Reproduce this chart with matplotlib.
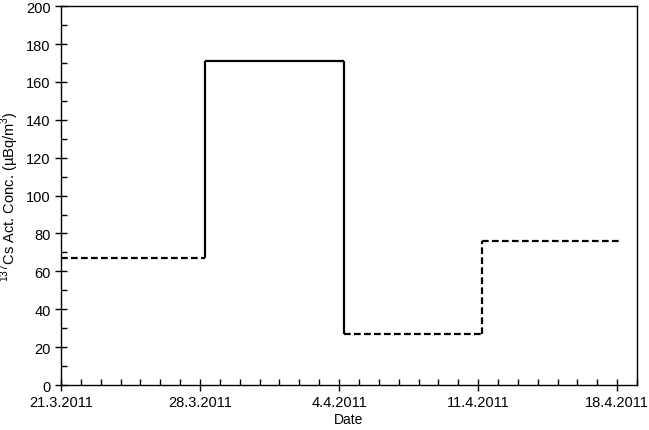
import datetime as dt
import matplotlib
matplotlib.use("Agg")
import matplotlib.pyplot as plt
import matplotlib.dates as mdates
from matplotlib.ticker import MultipleLocator

plt.rcParams['font.family'] = ['Liberation Sans', 'DejaVu Sans']
plt.rcParams['mathtext.fontset'] = 'custom'
plt.rcParams['mathtext.rm'] = 'Liberation Sans'

# step edges of the sampling weeks and the concentration for each week
edges = [dt.datetime(2011, 3, 21, 0), dt.datetime(2011, 3, 28, 6), dt.datetime(2011, 4, 4, 6),
         dt.datetime(2011, 4, 11, 5), dt.datetime(2011, 4, 18, 6)]
values = [67, 171, 27, 76]
tick_dates = [dt.datetime(2011, 3, 21), dt.datetime(2011, 3, 28), dt.datetime(2011, 4, 4),
              dt.datetime(2011, 4, 11), dt.datetime(2011, 4, 18)]
tick_labels = ['21.3.2011', '28.3.2011', '4.4.2011', '11.4.2011', '18.4.2011']

horiz_styles = ['dashed', 'solid', 'dashed', 'dashed']
vert_styles = ['solid', 'solid', 'dashed']

fig = plt.figure(figsize=(6.49, 4.31), dpi=100)
ax = fig.add_axes([0.094, 0.1044, 0.8875, 0.879])

def draw(xs, ys, style):
    if style == 'dashed':
        ax.plot(xs, ys, color='black', lw=1.6, dashes=(3, 1.5))
    else:
        ax.plot(xs, ys, color='black', lw=1.6, solid_capstyle='butt')

for i in range(len(values)):
    draw([edges[i], edges[i + 1]], [values[i], values[i]], horiz_styles[i])
    if i + 1 < len(values):
        draw([edges[i + 1], edges[i + 1]], [values[i], values[i + 1]], vert_styles[i])

ax.set_xlim(tick_dates[0], tick_dates[-1] + dt.timedelta(days=1))
ax.set_ylim(0, 200)
ax.set_xticks(tick_dates)
ax.set_xticklabels(tick_labels)
ax.xaxis.set_minor_locator(mdates.DayLocator())
ax.yaxis.set_major_locator(MultipleLocator(20))
ax.yaxis.set_minor_locator(MultipleLocator(10))
ax.tick_params(which='major', direction='inout', length=8, width=1, labelsize=10.5)
ax.tick_params(which='minor', direction='in', length=4, width=1)
for s in ax.spines.values():
    s.set_linewidth(1)

ax.set_xlabel('Date', fontsize=10, labelpad=2)
ax.set_ylabel('$^{137}$Cs Act. Conc. (µBq/m$^3$)', fontsize=10.5, va='center')
ax.yaxis.set_label_coords(-0.088, 0.5)

fig.savefig('out.png', dpi=100)
